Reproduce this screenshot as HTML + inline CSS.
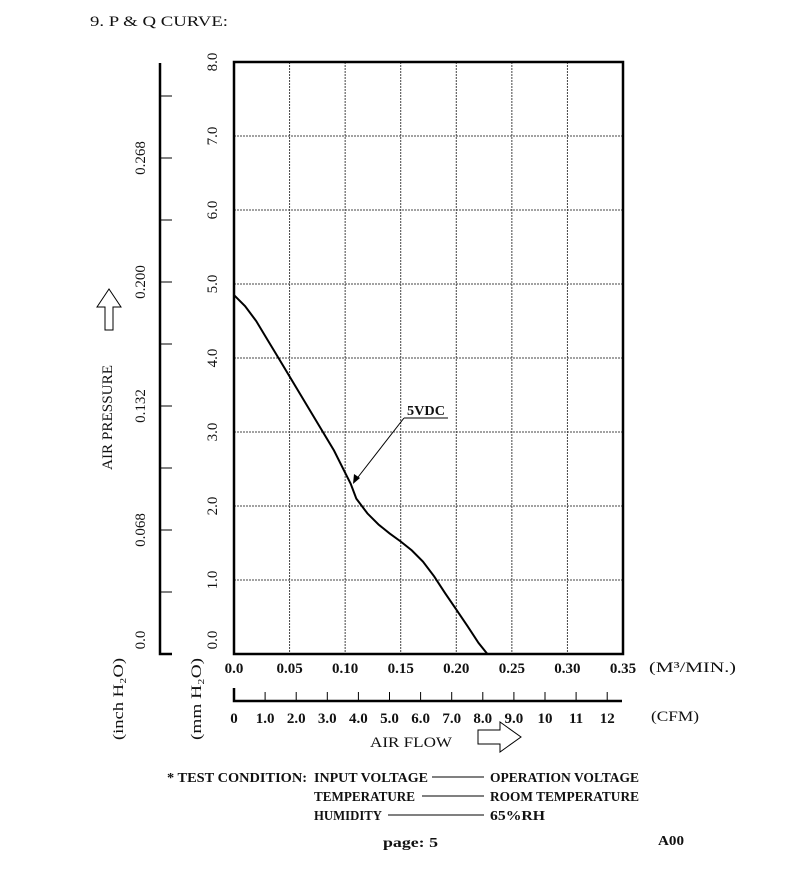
<!DOCTYPE html>
<html><head><meta charset="utf-8"><style>
html,body{margin:0;padding:0;background:#fff;}
svg{display:block;font-family:"Liberation Serif",serif;}
text{fill:#111;}
</style></head><body>
<svg id="c" width="786" height="885" viewBox="0 0 786 885">
<text x="90" y="26" font-size="15" textLength="138" lengthAdjust="spacingAndGlyphs">9. P &amp; Q CURVE:</text>
<g id="grid"></g>
<g id="axes"></g>
<path id="curve" fill="none" stroke="#000" stroke-width="2"/>
<g>
<text x="407" y="415" font-size="14" font-weight="bold" textLength="38" lengthAdjust="spacingAndGlyphs">5VDC</text>
<line x1="404" y1="418" x2="448" y2="418" stroke="#000" stroke-width="1"/>
<line x1="404" y1="418" x2="355" y2="481" stroke="#000" stroke-width="1"/>
<polygon points="353,484 354,474 360,478" fill="#000"/>
</g>
<text transform="translate(112,470) rotate(-90)" font-size="15" textLength="105" lengthAdjust="spacingAndGlyphs">AIR PRESSURE</text>
<polygon points="97,307 105,307 105,330 113,330 113,307 121,307 109,289" fill="none" stroke="#000" stroke-width="1"/>
<polygon points="478,730 478,744 500,744 500,752 521,737 500,722 500,730" fill="none" stroke="#000" stroke-width="1"/>
<text x="370" y="747" font-size="15" textLength="82" lengthAdjust="spacingAndGlyphs">AIR FLOW</text>
<text transform="translate(123,740) rotate(-90)" font-size="15" textLength="82" lengthAdjust="spacingAndGlyphs">(inch H₂O)</text>
<text transform="translate(201,740) rotate(-90)" font-size="15" textLength="82" lengthAdjust="spacingAndGlyphs">(mm H₂O)</text>
<text x="649" y="672" font-size="15" textLength="87" lengthAdjust="spacingAndGlyphs">(M³/MIN.)</text>
<text x="651" y="721" font-size="15" textLength="48" lengthAdjust="spacingAndGlyphs">(CFM)</text>
<g font-size="14" font-weight="bold">
<text x="167" y="782" textLength="140" lengthAdjust="spacingAndGlyphs">* TEST CONDITION:</text>
<text x="314" y="782" textLength="114" lengthAdjust="spacingAndGlyphs">INPUT VOLTAGE</text>
<line x1="432" y1="777" x2="484" y2="777" stroke="#000"/>
<text x="490" y="782" textLength="149" lengthAdjust="spacingAndGlyphs">OPERATION VOLTAGE</text>
<text x="314" y="801" textLength="101" lengthAdjust="spacingAndGlyphs">TEMPERATURE</text>
<line x1="422" y1="796" x2="484" y2="796" stroke="#000"/>
<text x="490" y="801" textLength="149" lengthAdjust="spacingAndGlyphs">ROOM TEMPERATURE</text>
<text x="314" y="820" textLength="68" lengthAdjust="spacingAndGlyphs">HUMIDITY</text>
<line x1="388" y1="815" x2="484" y2="815" stroke="#000"/>
<text x="490" y="820" textLength="55" lengthAdjust="spacingAndGlyphs">65%RH</text>
</g>
<text x="383" y="847" font-size="14" font-weight="bold" textLength="55" lengthAdjust="spacingAndGlyphs">page: 5</text>
<text x="658" y="845" font-size="14" font-weight="bold" textLength="26" lengthAdjust="spacingAndGlyphs">A00</text>
</svg>
<script>
const flowM3 = [0, 0.01, 0.02, 0.03, 0.04, 0.05, 0.06, 0.07, 0.08, 0.09, 0.10, 0.105, 0.11, 0.12, 0.13, 0.14, 0.15, 0.16, 0.17, 0.18, 0.19, 0.20, 0.21, 0.22, 0.228];
const pressureMm = [4.85, 4.7, 4.5, 4.25, 4.0, 3.75, 3.5, 3.25, 3.0, 2.75, 2.45, 2.3, 2.1, 1.9, 1.75, 1.63, 1.52, 1.4, 1.25, 1.05, 0.82, 0.6, 0.38, 0.15, 0];
const xTicks = ["0.0","0.05","0.10","0.15","0.20","0.25","0.30","0.35"];
const yTicks = ["0.0","1.0","2.0","3.0","4.0","5.0","6.0","7.0","8.0"];
const inchTicks = ["0.0","0.068","0.132","0.200","0.268"];
const cfmTicks = ["0","1.0","2.0","3.0","4.0","5.0","6.0","7.0","8.0","9.0","10","11","12"];

const X0=234,X1=623,Y0=654,Y1=62;
const sx=v=>X0+(v/0.35)*(X1-X0);
const sy=v=>Y0-(v/8)*(Y0-Y1);
const sc=v=>X0+v*31.1;
const NS="http://www.w3.org/2000/svg";
function mk(tag,parent,attrs){const e=document.createElementNS(NS,tag);for(const k in attrs)e.setAttribute(k,attrs[k]);parent.appendChild(e);return e;}
const grid=document.getElementById('grid'), axes=document.getElementById('axes');

xTicks.forEach((t,i)=>{const v=parseFloat(t);const x=sx(v);
 if(i>0&&i<xTicks.length-1){const l=mk('line',grid,{x1:x,y1:Y1,x2:x,y2:Y0,stroke:'#444','stroke-width':1,'stroke-dasharray':'2,1'});
 
 }
 const tx=mk('text',axes,{x:x,y:673,'font-size':15,'font-weight':'bold','text-anchor':'middle'});tx.textContent=t;
 
 
});
yTicks.forEach((t,i)=>{const v=parseFloat(t);const y=sy(v);
 if(i>0&&i<yTicks.length-1){const l=mk('line',grid,{x1:X0,y1:y,x2:X1,y2:y,stroke:'#444','stroke-width':1,'stroke-dasharray':'2,1'});
 
 }
 const ty=(i===0)?y-14:y;
 const tx=mk('text',axes,{transform:`translate(217,${ty}) rotate(-90)`,'font-size':15,'text-anchor':'middle'});tx.textContent=t;
 
 
});
const frame=mk('rect',axes,{x:X0,y:Y1,width:X1-X0,height:Y0-Y1,fill:'none',stroke:'#000','stroke-width':2.5});



mk('path',axes,{d:`M160,63 L160,654 L172,654`,fill:'none',stroke:'#000','stroke-width':2.5});
for(let k=1;k<=9;k++){const y=654-k*62;mk('line',axes,{x1:160,y1:y,x2:172,y2:y,stroke:'#000','stroke-width':1});}
inchTicks.forEach((t,i)=>{const y=i===0?640:654-i*2*62;
 const tx=mk('text',axes,{transform:`translate(145,${y}) rotate(-90)`,'font-size':15,'text-anchor':'middle'});tx.textContent=t;
 
 
});

mk('path',axes,{d:`M234,688 L234,701 L622,701`,fill:'none',stroke:'#000','stroke-width':2.5});
cfmTicks.forEach((t,i)=>{const v=parseFloat(t);const x=sc(v);
 if(i>0)mk('line',axes,{x1:x,y1:692,x2:x,y2:701,stroke:'#000','stroke-width':1});
 const tx=mk('text',axes,{x:x,y:723,'font-size':15,'font-weight':'bold','text-anchor':'middle'});tx.textContent=t;
 
 
});

document.getElementById('curve').setAttribute('d',flowM3.map((f,i)=>(i?'L':'M')+sx(f).toFixed(1)+','+sy(pressureMm[i]).toFixed(1)).join(' '));
</script>
</body></html>
